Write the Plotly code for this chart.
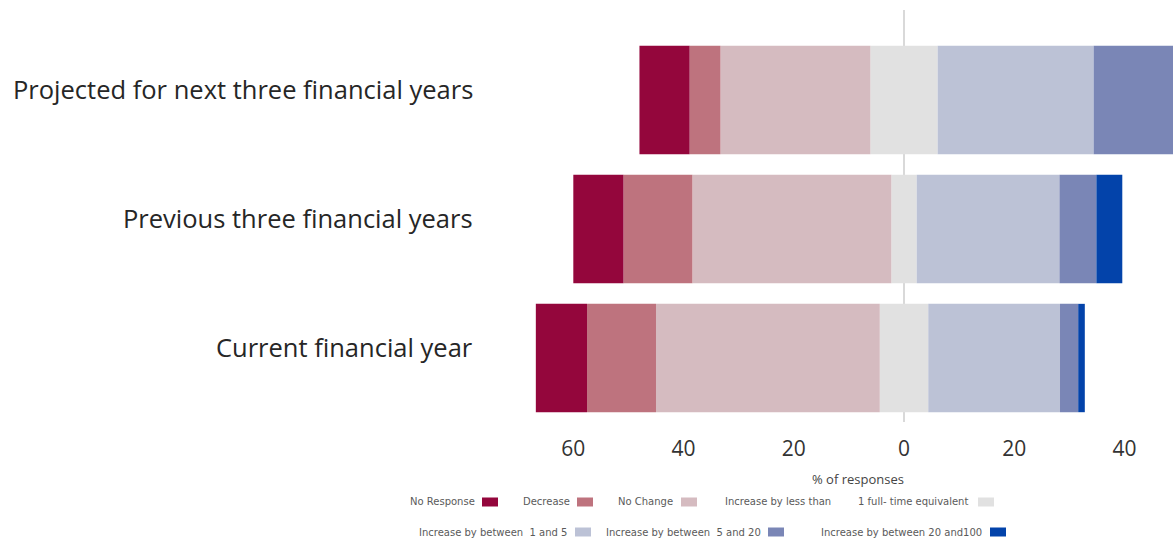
import plotly.graph_objects as go

# Survey responses on staffing change, % of responses per period
categories = [
    "Current financial year",
    "Previous three financial years",
    "Projected for next three financial years",
]
no_response = [9.3, 9.1, 9.1]
decrease = [12.5, 12.5, 5.6]
no_change = [40.6, 36.1, 27.2]
under_one_fte = [8.8, 4.6, 12.2]
one_to_five = [23.9, 25.9, 28.3]
five_to_twenty = [3.3, 6.7, 15.5]
twenty_to_hundred = [1.2, 4.7, 2.0]

tick_values = [-60, -40, -20, 0, 20, 40]
tick_labels = ["60", "40", "20", "0", "20", "40"]
axis_title = "% of responses"

legend_row1 = ["No Response", "Decrease", "No Change", "Increase by less than|1 full- time equivalent"]
legend_row2 = ["Increase by between  1 and 5", "Increase by between  5 and 20", "Increase by between 20 and100"]

colors = {
    "No Response": "#94063c",
    "Decrease": "#be737e",
    "No Change": "#d5bbc0",
    "Under": "#e1e1e1",
    "1-5": "#bcc2d6",
    "5-20": "#7a86b6",
    "20-100": "#0343aa",
}

W, H = 1173, 542
L, R, T, B = 500, 0, 10, 120
PW, PH = W - L - R, H - T - B


def px_x(px):
    return (px - L) / PW


def px_y(py):
    return (H - B - py) / PH


ypos = list(range(len(categories)))
half = [v / 2 for v in under_one_fte]

fig = go.Figure()


def add(values, color, negative=False):
    fig.add_trace(go.Bar(
        y=ypos,
        x=[-v for v in values] if negative else values,
        orientation="h",
        marker=dict(color=color, line=dict(width=0)),
        width=0.84,
        showlegend=False,
        hoverinfo="skip",
    ))


# left side stacks outward from zero
add(half, colors["Under"], negative=True)
add(no_change, colors["No Change"], negative=True)
add(decrease, colors["Decrease"], negative=True)
add(no_response, colors["No Response"], negative=True)
# right side
add(half, colors["Under"])
add(one_to_five, colors["1-5"])
add(five_to_twenty, colors["5-20"])
add(twenty_to_hundred, colors["20-100"])

fig.update_layout(
    width=W,
    height=H,
    margin=dict(l=L, r=R, t=T, b=B),
    barmode="relative",
    plot_bgcolor="white",
    paper_bgcolor="white",
    xaxis=dict(
        range=[-73.3, 48.8],
        tickvals=tick_values,
        ticktext=tick_labels,
        showgrid=False,
        zeroline=False,
        showline=False,
        ticks="",
        ticklabelstandoff=12,
        tickfont=dict(family="Open Sans", size=21, color="#333333"),
    ),
    yaxis=dict(
        range=[-0.496, 2.698],
        showticklabels=False,
        showgrid=False,
        zeroline=False,
        showline=False,
    ),
)

# zero reference line
fig.add_shape(type="line", xref="x", yref="paper", x0=0, x1=0, y0=0, y1=1,
              line=dict(color="#d9d9d9", width=2), layer="below")

# x-axis title
fig.add_annotation(x=px_x(858), xref="paper", y=px_y(479), yref="paper", text=axis_title,
                   showarrow=False, xanchor="center", yanchor="middle",
                   font=dict(family="Open Sans", size=13, color="#444444"))

# category labels
for yi, name in zip(ypos, categories):
    fig.add_annotation(x=0, xref="paper", y=yi, yref="y", text=name, showarrow=False,
                       xanchor="right", yanchor="middle", xshift=-25, yshift=11,
                       font=dict(family="Open Sans", size=25.5, color="#262626"))

legend_colors_row1 = [colors["No Response"], colors["Decrease"], colors["No Change"], colors["Under"]]
legend_colors_row2 = [colors["1-5"], colors["5-20"], colors["20-100"]]

# legend layout: (text right edge, swatch left) in pixels per entry
row1_slots = [(477, 482), (572, 577), (675, 681), (970, 978)]
row2_slots = [(569, 575), (763, 768), (984, 990)]
legend_font = dict(family="DejaVu Sans", size=10, color="#5a5a5a")


def legend_row(labels, cols, slots, py):
    for label, col, (tx, sx) in zip(labels, cols, slots):
        if "|" in label:
            first, second = label.split("|")
            fig.add_annotation(x=px_x(tx), xref="paper", y=px_y(py), yref="paper", text=second,
                               showarrow=False, xanchor="right", yanchor="middle", font=legend_font)
            fig.add_annotation(x=px_x(tx - 137), xref="paper", y=px_y(py), yref="paper", text=first,
                               showarrow=False, xanchor="right", yanchor="middle", font=legend_font)
        else:
            fig.add_annotation(x=px_x(tx), xref="paper", y=px_y(py), yref="paper", text=label,
                               showarrow=False, xanchor="right", yanchor="middle", font=legend_font)
        fig.add_shape(type="rect", xref="paper", yref="paper",
                      x0=px_x(sx), x1=px_x(sx + 16), y0=px_y(py + 4.5), y1=px_y(py - 4.5),
                      fillcolor=col, line=dict(width=0))


legend_row(legend_row1, legend_colors_row1, row1_slots, 502)
legend_row(legend_row2, legend_colors_row2, row2_slots, 532)

fig.write_html("out.html")
